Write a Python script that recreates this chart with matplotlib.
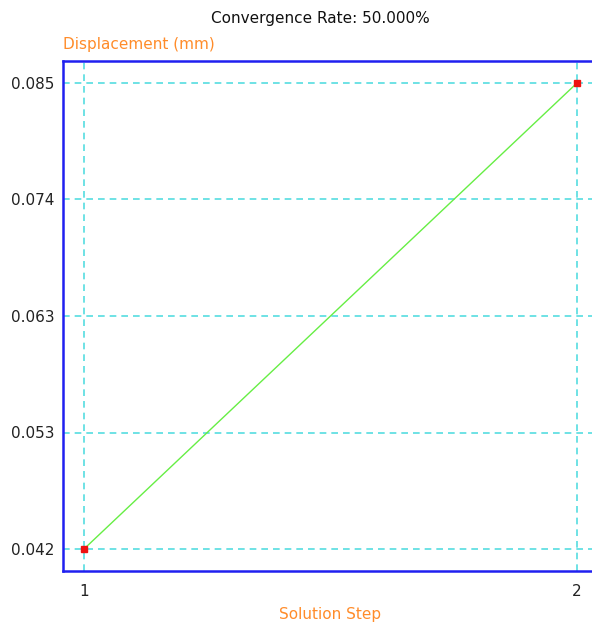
import matplotlib
matplotlib.use("Agg")
import matplotlib.pyplot as plt
import numpy as np

steps = [1, 2]
displacement = [0.042, 0.085]
y_tick_labels = ["0.042", "0.053", "0.063", "0.074", "0.085"]
x_tick_labels = ["1", "2"]
title = "Convergence Rate: 50.000%"
ylabel = "Displacement (mm)"
xlabel = "Solution Step"

W, H = 592, 628
fig = plt.figure(figsize=(W / 100, H / 100), dpi=100)
left, right, top, bottom = 63, 605, 61, 571
ax = fig.add_axes([left / W, 1 - bottom / H, (right - left) / W, (bottom - top) / H])

ymin, ymax = min(displacement), max(displacement)
ppu_x = 493.0
ax.set_xlim(1 - 21 / ppu_x, 2 + (right - 577) / ppu_x)
ppu_y = 466.0 / (ymax - ymin)
ax.set_ylim(ymin - 22 / ppu_y, ymax + 22 / ppu_y)

ax.set_yticks(np.linspace(ymin, ymax, len(y_tick_labels)))
ax.set_yticklabels(y_tick_labels)
ax.set_xticks(steps)
ax.set_xticklabels(x_tick_labels)
ax.tick_params(length=0, labelsize=11, colors="#222222", pad=6)
ax.tick_params(axis="x", pad=9)

ax.grid(True, color="#55dde0", linestyle=(0, (4, 3)), linewidth=1.2)
ax.set_axisbelow(True)
for s in ax.spines.values():
    s.set_color("#2020f0")
    s.set_linewidth(1.8)

ax.plot(steps, displacement, color="#66ee44", linewidth=1.0, zorder=3)
ax.plot(steps, displacement, linestyle="none", marker="s", markersize=5,
        color="#ee1111", zorder=4)

fig.text(320 / W, 1 - 18 / H, title, ha="center", va="center", fontsize=11, color="#111111")
fig.text(63 / W, 1 - 45 / H, ylabel, ha="left", va="center", fontsize=11, color="#ff8c2a")
fig.text(330 / W, 1 - 614 / H, xlabel, ha="center", va="center", fontsize=11, color="#ff8c2a")

fig.savefig("out.png", dpi=100)
